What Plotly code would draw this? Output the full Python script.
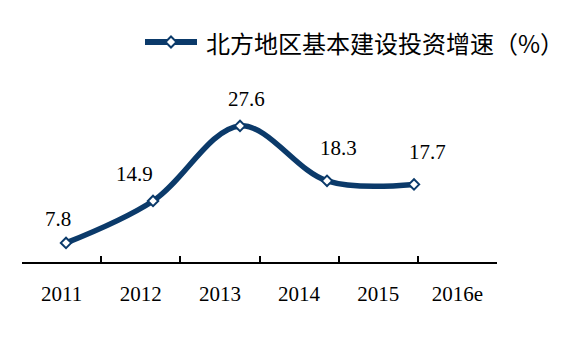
import plotly.graph_objects as go

# Category labels along the bottom axis
categories = ["2011", "2012", "2013", "2014", "2015", "2016e"]

# Annual growth of capital construction investment, northern region (%)
years = [2011, 2012, 2013, 2014, 2015]
growth = [7.8, 14.9, 27.6, 18.3, 17.7]

series_name = "北方地区基本建设投资增速（%）"

NAVY = "#0b3a6a"
SERIF = "Liberation Serif, Times New Roman, serif"
CJK = "Noto Sans CJK SC, sans-serif"

# Pixel offsets of each value label from its point
label_shift = [(-8, 24), (-19, 27), (6, 27), (11, 33), (13, 32)]

fig = go.Figure()

# Invisible trace that carries the category axis
fig.add_trace(go.Scatter(
    x=categories, y=[None] * len(categories), xaxis="x", yaxis="y",
    mode="markers", showlegend=False, hoverinfo="skip",
))

# Smoothed growth line with hollow diamond markers
fig.add_trace(go.Scatter(
    x=years, y=growth, xaxis="x2", yaxis="y",
    mode="lines+markers", name=series_name, showlegend=False,
    line=dict(color=NAVY, width=5.5, shape="spline", smoothing=1),
    marker=dict(symbol="diamond", size=8, color="white",
                line=dict(color=NAVY, width=2)),
))

annotations = []
for yr, v, (dx, dy) in zip(years, growth, label_shift):
    annotations.append(dict(
        x=yr, y=v, xref="x2", yref="y", text=f"{v:.1f}", showarrow=False,
        xshift=dx, yshift=dy, font=dict(family=SERIF, size=21, color="black"),
    ))

# Legend text
annotations.append(dict(
    x=(204 - 22) / 475, y=(262 - 43) / 202, xref="paper", yref="paper",
    xanchor="left", yanchor="middle", text=series_name, showarrow=False,
    font=dict(family=CJK, size=24, color="black"),
))

leg_y = (262 - 42) / 202
leg_x0 = (145 - 22) / 475
leg_x1 = (197 - 22) / 475
leg_xm = (171 - 22) / 475
shapes = [
    dict(type="line", xref="paper", yref="paper", x0=leg_x0, x1=leg_x1,
         y0=leg_y, y1=leg_y, line=dict(color=NAVY, width=6)),
    dict(type="path", xref="paper", yref="paper",
         xsizemode="pixel", ysizemode="pixel", xanchor=leg_xm, yanchor=leg_y,
         path="M0,5.5 L5.5,0 L0,-5.5 L-5.5,0 Z",
         fillcolor="white", line=dict(color=NAVY, width=2)),
]

fig.update_layout(
    width=572, height=342,
    margin=dict(l=22, r=75, t=60, b=80),
    paper_bgcolor="white", plot_bgcolor="white",
    showlegend=False,
    annotations=annotations,
    shapes=shapes,
    xaxis=dict(
        type="category", categoryarray=categories, range=[-0.5, 5.5],
        showline=True, linecolor="black", linewidth=1.5,
        ticks="inside", tickson="boundaries", ticklen=6, tickcolor="black",
        tickwidth=1.5, showgrid=False, zeroline=False,
        tickfont=dict(family=SERIF, size=21, color="black"),
        ticklabelstandoff=12,
    ),
    xaxis2=dict(
        overlaying="x", anchor="y", range=[2010.494, 2015.954],
        visible=False, showgrid=False, zeroline=False,
    ),
    yaxis=dict(range=[4.57, 38.75], visible=False, showgrid=False,
               zeroline=False),
)

fig.write_html("out.html")
